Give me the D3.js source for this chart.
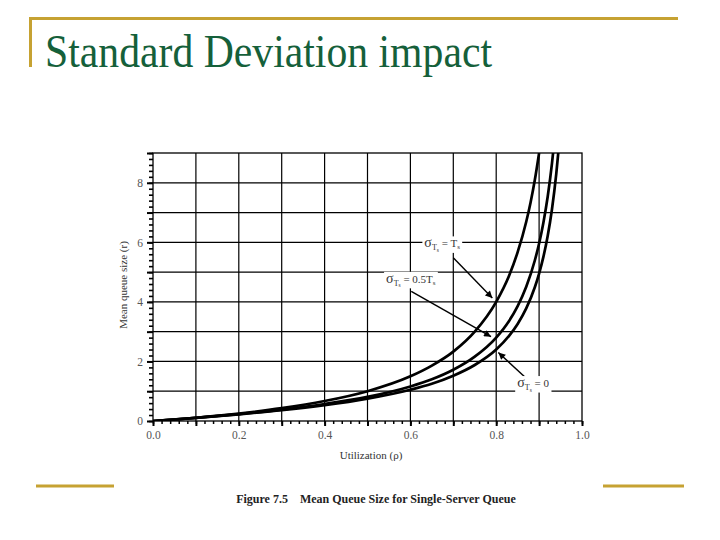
<!DOCTYPE html>
<html lang="en">
<head>
<meta charset="UTF-8">
<title>Standard Deviation impact</title>
<style>
  body { margin: 0; background: #fff; }
  svg { display: block; }
  .domain { display: none; }
  .lbl { font-family: "Liberation Serif", serif; font-size: 11px; fill: #333; }
</style>
</head>
<body>
<script src="https://d3js.org/d3.v7.min.js"></script>
<script>
// utilization values and mean queue size
const rhoTs   = [0, 0.1, 0.2, 0.3, 0.4, 0.5, 0.6, 0.65, 0.7, 0.75, 0.8, 0.83, 0.85, 0.87, 0.88, 0.89, 0.9];
const sizeTs  = [0, 0.11, 0.25, 0.43, 0.67, 1.0, 1.5, 1.86, 2.33, 3.0, 4.0, 4.88, 5.67, 6.69, 7.33, 8.09, 9.0];

const rhoHalf  = [0, 0.1, 0.2, 0.3, 0.4, 0.5, 0.6, 0.65, 0.7, 0.75, 0.8, 0.83, 0.85, 0.87, 0.89, 0.9, 0.91, 0.92, 0.93, 0.934];
const sizeHalf = [0, 0.107, 0.23, 0.38, 0.57, 0.81, 1.16, 1.40, 1.72, 2.16, 2.8, 3.36, 3.86, 4.51, 5.39, 5.96, 6.66, 7.53, 8.65, 9.2];

const rhoZero  = [0, 0.1, 0.2, 0.3, 0.4, 0.5, 0.6, 0.65, 0.7, 0.75, 0.8, 0.83, 0.85, 0.87, 0.89, 0.9, 0.91, 0.92, 0.93, 0.94, 0.946];
const sizeZero = [0, 0.106, 0.225, 0.36, 0.53, 0.75, 1.05, 1.25, 1.52, 1.88, 2.4, 2.86, 3.26, 3.78, 4.49, 4.95, 5.51, 6.21, 7.11, 8.3, 9.2];

const xTicks = [0, 0.2, 0.4, 0.6, 0.8, 1.0];
const yTicks = [0, 2, 4, 6, 8];

// annotations: label position, arrow start, arrow end (rho, size)
const notes = [
  { rhs: "T", rhsSub: "s", at: [0.674, 5.83], from: [0.700, 5.48], to: [0.791, 4.13] },
  { rhs: "0.5T", rhsSub: "s", at: [0.601, 4.64], from: [0.602, 4.35], to: [0.788, 2.83] },
  { rhs: "0", rhsSub: "", at: [0.886, 1.14], from: [0.877, 1.34], to: [0.805, 2.30] }
];

const W = 720, H = 540;
const svg = d3.select("body").append("svg").attr("width", W).attr("height", H);

// slide frame
const gold = "#c6a232";
svg.append("line").attr("x1", 29).attr("x2", 678).attr("y1", 18.5).attr("y2", 18.5)
  .attr("stroke", gold).attr("stroke-width", 3);
svg.append("line").attr("x1", 30.5).attr("x2", 30.5).attr("y1", 17).attr("y2", 67)
  .attr("stroke", gold).attr("stroke-width", 3);
svg.append("line").attr("x1", 36).attr("x2", 114).attr("y1", 486).attr("y2", 486)
  .attr("stroke", gold).attr("stroke-width", 3);
svg.append("line").attr("x1", 603).attr("x2", 684).attr("y1", 486).attr("y2", 486)
  .attr("stroke", gold).attr("stroke-width", 3);

svg.append("text").attr("transform", "translate(45,67) scale(1,1.08)")
  .attr("font-family", "Liberation Serif, Times New Roman, serif")
  .attr("font-size", 43).attr("fill", "#15603a")
  .attr("textLength", 447).attr("lengthAdjust", "spacingAndGlyphs")
  .text("Standard Deviation impact");

svg.append("text").attr("x", 376).attr("y", 503).attr("text-anchor", "middle")
  .attr("font-family", "Liberation Serif, Times New Roman, serif")
  .attr("font-size", 12).attr("font-weight", "bold").attr("fill", "#222")
  .attr("xml:space", "preserve")
  .text("Figure 7.5    Mean Queue Size for Single-Server Queue");

// chart
const pLeft = 153, pRight = 582, pTop = 153, pBottom = 421;
const x = d3.scaleLinear().domain([0, 1]).range([pLeft, pRight]);
const y = d3.scaleLinear().domain([0, 9]).range([pBottom, pTop]);

const g = svg.append("g");

// grid
g.selectAll(".vg").data(d3.range(1, 10).map(d => d / 10)).enter().append("line")
  .attr("x1", d => x(d)).attr("x2", d => x(d)).attr("y1", pTop).attr("y2", pBottom)
  .attr("stroke", "#000").attr("stroke-width", 1.2);
g.selectAll(".hg").data(d3.range(1, 9)).enter().append("line")
  .attr("x1", pLeft).attr("x2", pRight).attr("y1", d => y(d)).attr("y2", d => y(d))
  .attr("stroke", "#000").attr("stroke-width", 1.2);
g.append("rect").attr("x", pLeft).attr("y", pTop).attr("width", pRight - pLeft).attr("height", pBottom - pTop)
  .attr("fill", "none").attr("stroke", "#000").attr("stroke-width", 1.3);

const styleLabels = s => s.selectAll("text")
  .attr("font-family", "Liberation Serif, serif").attr("font-size", 11.5).attr("fill", "#555");

// axes
g.append("g").attr("transform", `translate(0,${pBottom})`)
  .call(d3.axisBottom(x).tickValues(d3.range(0, 51).map(i => i / 50)).tickSize(3).tickFormat(""))
  .call(s => s.selectAll("line").attr("stroke-width", 1.5));
g.append("g").attr("transform", `translate(0,${pBottom})`)
  .call(d3.axisBottom(x).tickValues(d3.range(0, 11).map(i => i / 10)).tickSize(5).tickFormat(""))
  .call(s => s.selectAll("line").attr("stroke-width", 2));
g.append("g").attr("transform", `translate(0,${pBottom})`)
  .call(d3.axisBottom(x).tickValues(xTicks).tickSize(0).tickPadding(10).tickFormat(d3.format(".1f")))
  .call(styleLabels);

g.append("g").attr("transform", `translate(${pLeft},0)`)
  .call(d3.axisLeft(y).tickValues(d3.range(0, 46).map(i => i / 5)).tickSize(4).tickFormat(""))
  .call(s => s.selectAll("line").attr("stroke-width", 1.6));
g.append("g").attr("transform", `translate(${pLeft},0)`)
  .call(d3.axisLeft(y).tickValues(d3.range(0, 10)).tickSize(6).tickFormat(""))
  .call(s => s.selectAll("line").attr("stroke-width", 2));
g.append("g").attr("transform", `translate(${pLeft},0)`)
  .call(d3.axisLeft(y).tickValues(yTicks).tickSize(0).tickPadding(10).tickFormat(d3.format("d")))
  .call(styleLabels);

g.append("text").attr("class", "lbl").attr("text-anchor", "middle")
  .attr("transform", "translate(127,285) rotate(-90)")
  .text("Mean queue size (r)");
g.append("text").attr("class", "lbl").attr("text-anchor", "middle")
  .attr("x", 371).attr("y", 459).text("Utilization (\u03c1)");

// curves
svg.append("clipPath").attr("id", "plot").append("rect")
  .attr("x", pLeft).attr("y", pTop).attr("width", pRight - pLeft).attr("height", pBottom - pTop);

const line = d3.line().x(d => x(d[0])).y(d => y(d[1])).curve(d3.curveMonotoneX);
const series = [
  d3.zip(rhoTs, sizeTs),
  d3.zip(rhoHalf, sizeHalf),
  d3.zip(rhoZero, sizeZero)
];
g.append("g").attr("clip-path", "url(#plot)").selectAll("path").data(series).enter().append("path")
  .attr("d", line).attr("fill", "none").attr("stroke", "#000").attr("stroke-width", 2.7);

// annotations
svg.append("defs").append("marker").attr("id", "arr")
  .attr("viewBox", "0 0 10 10").attr("refX", 10).attr("refY", 5)
  .attr("markerWidth", 9).attr("markerHeight", 7).attr("markerUnits", "userSpaceOnUse")
  .attr("orient", "auto")
  .append("path").attr("d", "M0,0L10,5L0,10Z").attr("fill", "#000");

notes.forEach(n => {
  g.append("line")
    .attr("x1", x(n.from[0])).attr("y1", y(n.from[1]))
    .attr("x2", x(n.to[0])).attr("y2", y(n.to[1]))
    .attr("stroke", "#000").attr("stroke-width", 1.4).attr("marker-end", "url(#arr)");
  const t = g.append("text").attr("class", "lbl").attr("text-anchor", "middle")
    .attr("x", x(n.at[0])).attr("y", y(n.at[1]));
  t.append("tspan").attr("font-size", 14).text("\u03c3");
  t.append("tspan").attr("font-size", 8).attr("dy", 3).text("T");
  t.append("tspan").attr("font-size", 5.5).attr("dy", 1.5).text("s");
  t.append("tspan").attr("dy", -4.5).text(" = " + n.rhs);
  if (n.rhsSub) t.append("tspan").attr("font-size", 7).attr("dy", 2).text(n.rhsSub);
  const b = t.node().getBBox();
  g.insert("rect", () => t.node()).attr("x", b.x - 2).attr("y", b.y + 1)
    .attr("width", b.width + 4).attr("height", b.height - 1).attr("fill", "#fff");
});
</script>
</body>
</html>
